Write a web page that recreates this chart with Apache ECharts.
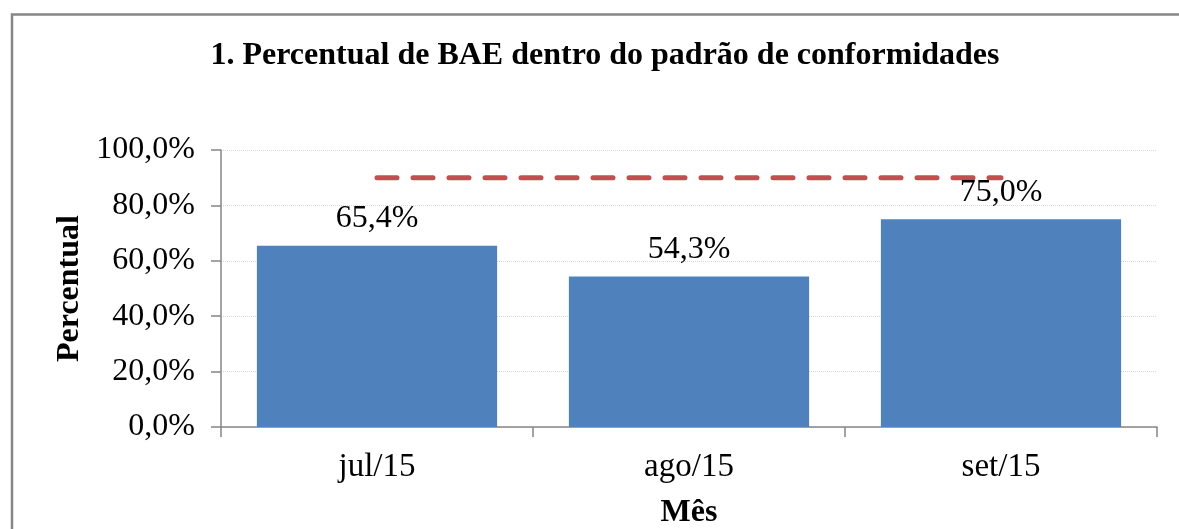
<!DOCTYPE html>
<html>
<head>
<meta charset="utf-8">
<script src="https://cdn.jsdelivr.net/npm/echarts@6/dist/echarts.min.js"></script>
<style>
html,body{margin:0;padding:0;background:#fff;}
#c{width:1179px;height:529px;}
</style>
</head>
<body>
<div id="c"></div>
<script>
const categories = ["jul/15", "ago/15", "set/15"];
const percentValues = [65.4, 54.3, 75.0];
const targetValues = [90, 90, 90];
const yTicks = [0, 20, 40, 60, 80, 100];

const fmt = v => v.toFixed(1).replace('.', ',') + '%';
const serif = '"Liberation Serif", "DejaVu Serif", serif';

const chart = echarts.init(document.getElementById('c'), null, {renderer: 'canvas'});
chart.setOption({
  animation: false,
  backgroundColor: '#fff',
  graphic: [{
    type: 'rect',
    shape: {x: 12, y: 14.5, width: 1300, height: 700},
    style: {fill: 'none', stroke: '#868686', lineWidth: 2.5},
    z: 100
  }],
  title: {
    text: '1. Percentual de BAE dentro do padrão de conformidades',
    left: 600, top: 35, textAlign: 'center',
    textStyle: {fontFamily: serif, fontWeight: 'bold', fontSize: 32, color: '#000'}
  },
  grid: {left: 221, right: 22, top: 150, bottom: 102, containLabel: false, outerBoundsMode: 'none'},
  xAxis: {
    type: 'category',
    data: categories,
    boundaryGap: true,
    name: 'Mês',
    nameLocation: 'middle',
    nameGap: 70,
    nameTextStyle: {fontFamily: serif, fontWeight: 'bold', fontSize: 32, color: '#000'},
    axisLine: {lineStyle: {color: '#868686', width: 1.5}},
    axisTick: {show: true, alignWithLabel: false, length: 10, lineStyle: {color: '#868686', width: 1.5}},
    axisLabel: {fontFamily: serif, fontSize: 33, color: '#000', margin: 24}
  },
  yAxis: {
    type: 'value',
    min: yTicks[0], max: yTicks[yTicks.length - 1], interval: 20,
    name: 'Percentual',
    nameLocation: 'middle',
    nameGap: 134,
    nameRotate: 90,
    nameTextStyle: {fontFamily: serif, fontWeight: 'bold', fontSize: 32, color: '#000'},
    axisLine: {show: true, lineStyle: {color: '#868686', width: 1.5}},
    axisTick: {show: true, inside: false, length: 10, lineStyle: {color: '#868686', width: 1.5}},
    axisLabel: {fontFamily: serif, fontSize: 32, color: '#000', margin: 26, formatter: v => fmt(v)},
    splitLine: {show: true, lineStyle: {color: '#d9d9d9', type: 'dotted', width: 1}}
  },
  series: [{
    type: 'bar',
    data: percentValues,
    barCategoryGap: '23%',
    itemStyle: {color: '#4F81BD'},
    label: {
      show: true, position: 'top', distance: 11,
      fontFamily: serif, fontSize: 32, color: '#000',
      formatter: p => fmt(p.value)
    },
    z: 2
  }, {
    type: 'line',
    data: targetValues,
    symbol: 'none',
    lineStyle: {color: '#C0504D', width: 5, type: [20, 16], cap: 'round'},
    z: 1
  }]
});
</script>
</body>
</html>
